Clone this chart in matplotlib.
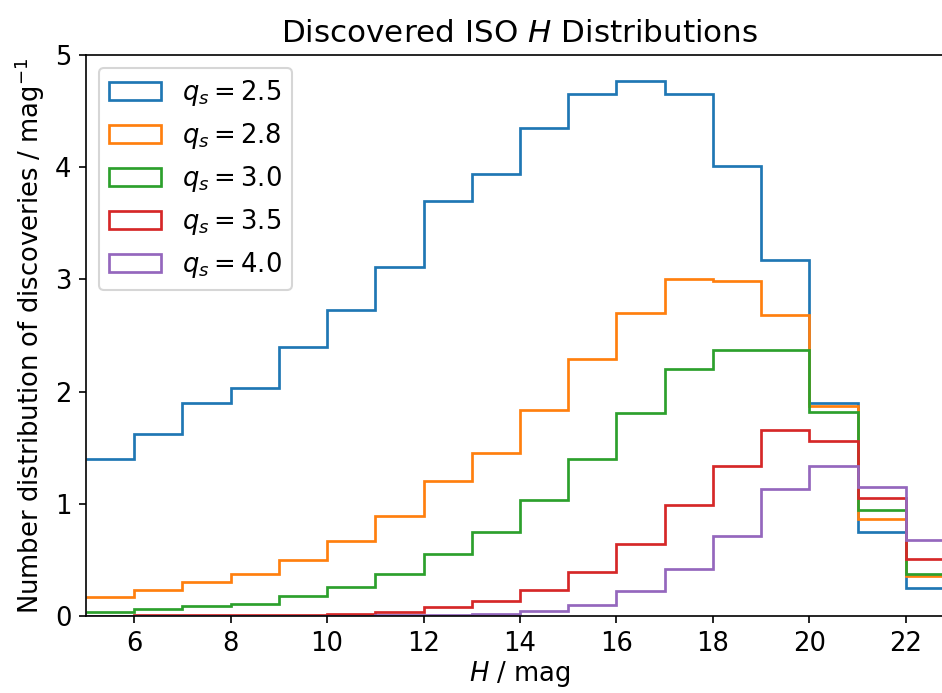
import matplotlib
matplotlib.use("Agg")
import matplotlib.pyplot as plt
import numpy as np
from matplotlib.legend_handler import HandlerPatch
from matplotlib.patches import StepPatch

plt.rcParams["font.size"] = 12.4

# 1-mag bins in absolute magnitude H
h_edges = np.arange(5, 24, 1)

q_s = [2.5, 2.8, 3.0, 3.5, 4.0]

# number distribution of discoveries per mag, one array per q_s
dist_q25 = [1.40, 1.62, 1.90, 2.03, 2.40, 2.73, 3.11, 3.70, 3.94,
            4.35, 4.65, 4.77, 4.65, 4.01, 3.17, 1.90, 0.75, 0.25]
dist_q28 = [0.17, 0.23, 0.30, 0.37, 0.50, 0.67, 0.89, 1.20, 1.45,
            1.84, 2.29, 2.70, 3.00, 2.99, 2.68, 1.87, 0.865, 0.36]
dist_q30 = [0.036, 0.06, 0.086, 0.11, 0.175, 0.26, 0.37, 0.555, 0.75,
            1.03, 1.40, 1.81, 2.20, 2.375, 2.37, 1.815, 0.945, 0.37]
dist_q35 = [0.003, 0.005, 0.007, 0.009, 0.011, 0.014, 0.036, 0.078, 0.13,
            0.23, 0.39, 0.64, 0.985, 1.34, 1.66, 1.56, 1.055, 0.51]
dist_q40 = [0.0003, 0.0005, 0.0008, 0.001, 0.002, 0.004, 0.007, 0.011, 0.018,
            0.045, 0.10, 0.22, 0.415, 0.715, 1.13, 1.335, 1.15, 0.675]

dists = [dist_q25, dist_q28, dist_q30, dist_q35, dist_q40]

fig = plt.figure(figsize=(942 / 150, 693 / 150), dpi=150)
ax = fig.add_axes([86 / 942, 77 / 693, 868 / 942, 561 / 693])

# open-ended steps (no drop to zero at the outer edges)
for q, d in zip(q_s, dists):
    ax.stairs(d, h_edges, baseline=None, fill=False, linewidth=1.3,
              label=rf"$q_s = {q:.1f}$")

ax.set_xlim(5, 23)
ax.set_ylim(0, 5)
ax.set_xticks(np.arange(6, 23, 2))
ax.set_xlabel(r"$H$ / mag", labelpad=1)
ax.set_ylabel(r"Number distribution of discoveries / mag$^{-1}$")
ax.set_title(r"Discovered ISO $H$ Distributions")
# box-style legend keys, like a step histogram
ax.legend(loc="upper left", handler_map={StepPatch: HandlerPatch()})

fig.savefig("out.png", dpi=150)
